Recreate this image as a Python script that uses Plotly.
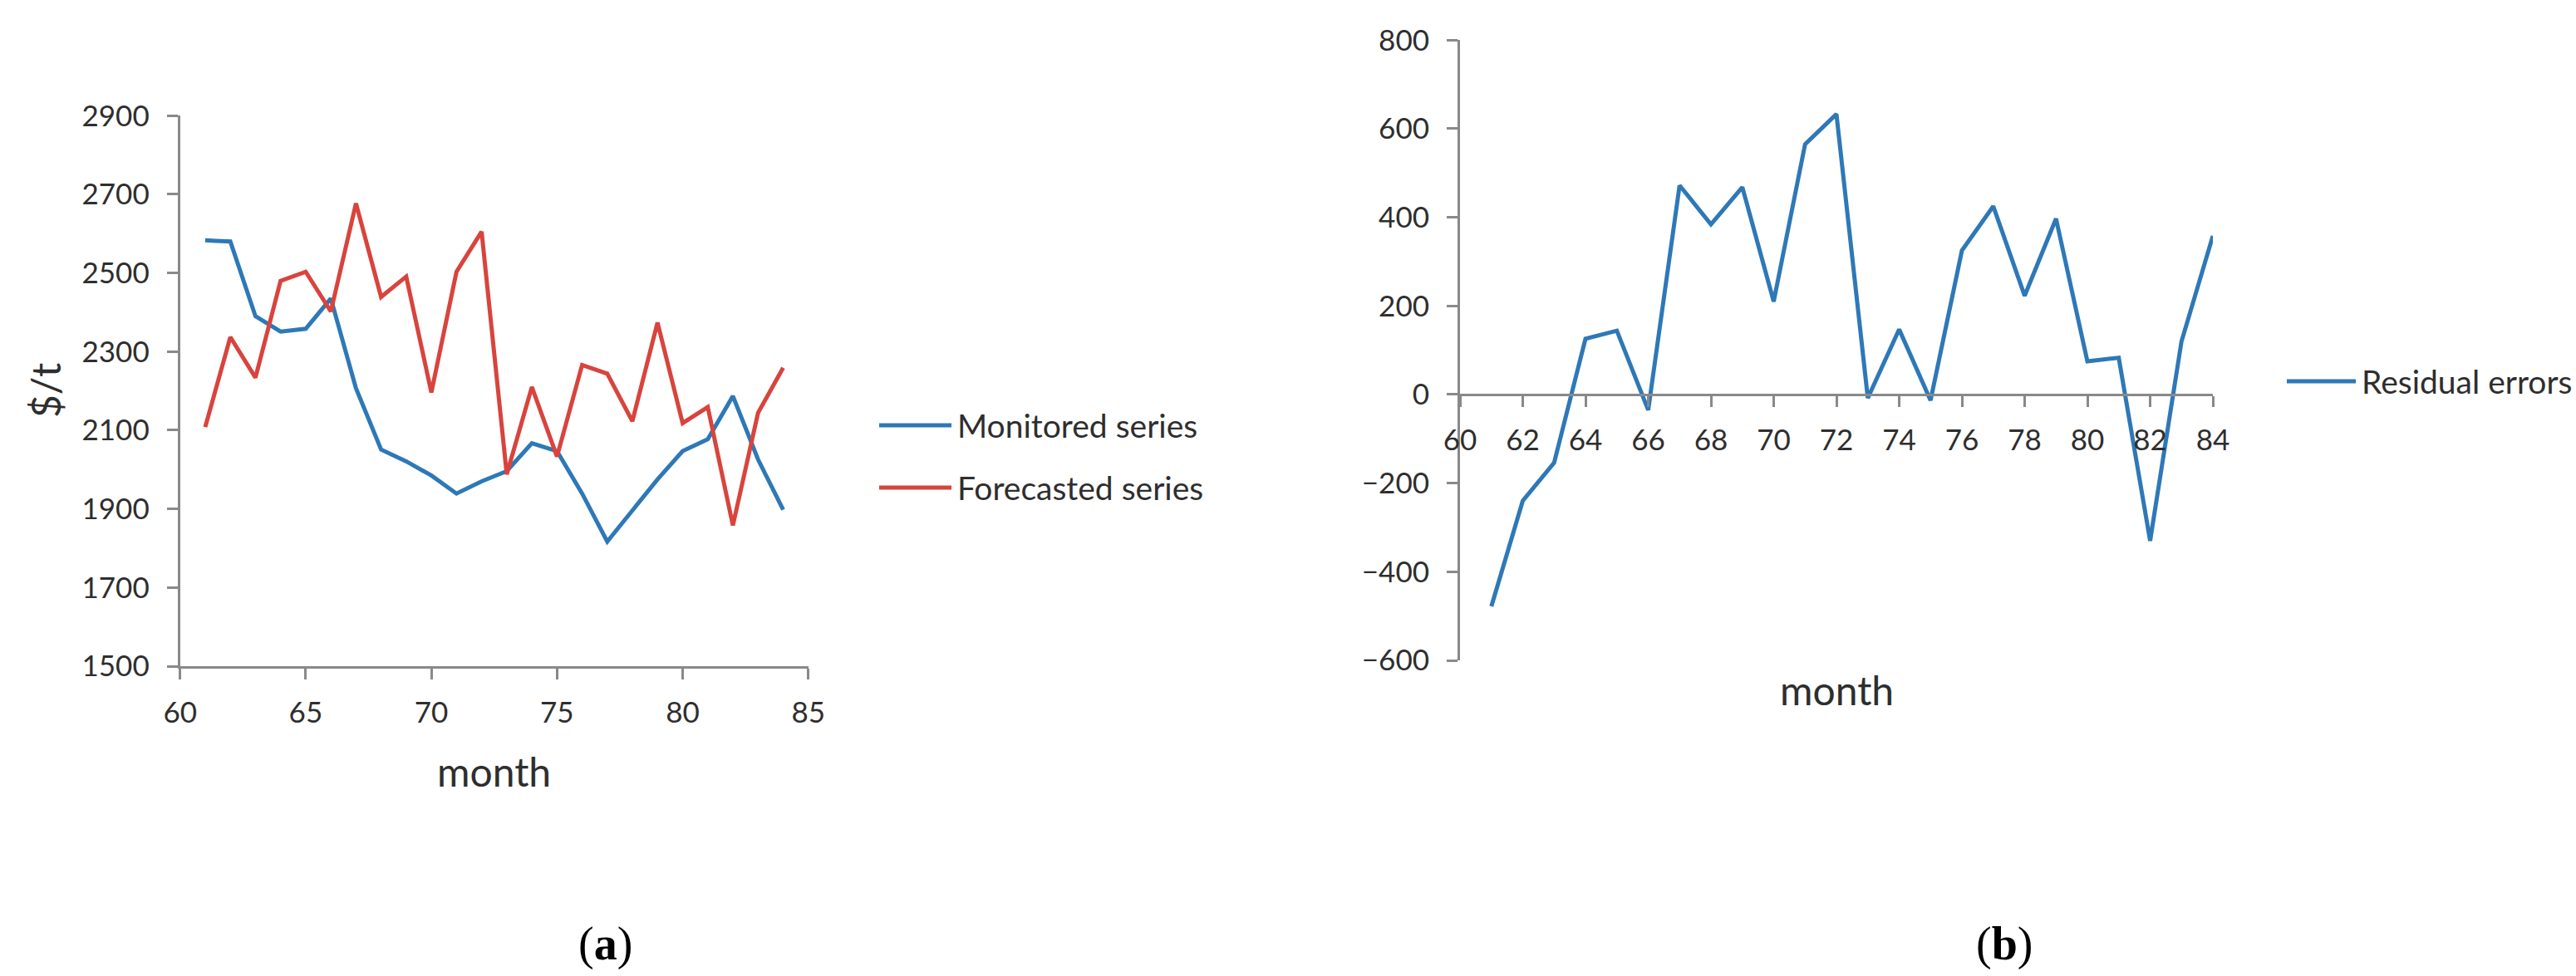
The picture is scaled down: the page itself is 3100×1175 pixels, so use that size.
import plotly.graph_objects as go

# ---- data -------------------------------------------------------------
months = list(range(61, 85))
monitored = [2583, 2580, 2390, 2351, 2358, 2435, 2207, 2051, 2021, 1985,
             1939, 1970, 1996, 2067, 2047, 1939, 1817, 1898, 1975, 2047,
             2077, 2187, 2026, 1898]
forecasted = [2108, 2337, 2234, 2480, 2503, 2402, 2677, 2439, 2491, 2196,
              2503, 2605, 1988, 2210, 2033, 2266, 2244, 2123, 2374, 2118,
              2159, 1858, 2144, 2259]
residuals = [-478, -240, -154, 126, 144, -35, 472, 384, 468, 210,
             565, 633, -8, 147, -13, 325, 425, 223, 397, 75,
             83, -330, 120, 358]

series_names = ["Monitored series", "Forecasted series"]
residual_name = "Residual errors"
panel_labels = ["(<b>a</b>)", "(<b>b</b>)"]
x_title = "month"
y_title = "$/t"

# ---- styling ----------------------------------------------------------
W, H = 3100, 1175
BLUE = "#2e78b7"
RED = "#d8443d"
AXIS = "#898989"
TEXT = "#2e2e2e"
FONT = "Lato"
TICK_SIZE = 35
TITLE_SIZE = 48
LEGEND_SIZE = 39
LINE_W = 5


def px_x(p):
    return p / W


def px_y(p):
    return 1 - p / H


fig = go.Figure()

fig.add_trace(go.Scatter(x=months, y=monitored, mode="lines", name=series_names[0],
                         line=dict(color=BLUE, width=LINE_W), xaxis="x", yaxis="y"))
fig.add_trace(go.Scatter(x=months, y=forecasted, mode="lines", name=series_names[1],
                         line=dict(color=RED, width=LINE_W), xaxis="x", yaxis="y"))
fig.add_trace(go.Scatter(x=months, y=residuals, mode="lines", name=residual_name,
                         line=dict(color=BLUE, width=LINE_W), xaxis="x2", yaxis="y2"))

axis_common = dict(
    showline=True, linecolor=AXIS, linewidth=3,
    ticks="outside", ticklen=13, tickwidth=3, tickcolor=AXIS,
    showgrid=False, zeroline=False, automargin=False,
    tickfont=dict(family=FONT, size=TICK_SIZE, color=TEXT),
)
x_common = dict(axis_common, ticklabelstandoff=10)
y_common = dict(axis_common, ticklabelstandoff=14)

# right-panel x axis sits on the zero line of its y axis
y2_lo, y2_hi = -600, 800
y2_dom = [px_y(795), px_y(48.3)]
zero_pos = y2_dom[0] + (0 - y2_lo) / (y2_hi - y2_lo) * (y2_dom[1] - y2_dom[0])

fig.update_layout(
    width=W, height=H,
    margin=dict(l=0, r=0, t=0, b=0, autoexpand=False),
    paper_bgcolor="white", plot_bgcolor="white",
    showlegend=False,
    font=dict(family=FONT, color=TEXT),
    xaxis=dict(x_common, domain=[px_x(216.7), px_x(972.7)], anchor="y",
               range=[60, 85], tick0=60, dtick=5),
    yaxis=dict(y_common, domain=[px_y(802), px_y(139.3)], anchor="x",
               range=[1500, 2900], tick0=1500, dtick=200),
    xaxis2=dict(x_common, domain=[px_x(1757), px_x(2663)], anchor="free",
                position=zero_pos, range=[60, 84], tick0=60, dtick=2),
    yaxis2=dict(y_common, domain=y2_dom, anchor="x2",
                range=[y2_lo, y2_hi], tick0=-600, dtick=200),
)

# axis titles
title_font = dict(family=FONT, size=TITLE_SIZE, color=TEXT)
for tx, ty, angle in [(594.7, 928, 0), (54, 470, -90), (2210, 830, 0)]:
    fig.add_annotation(text=y_title if angle else x_title, xref="paper", yref="paper",
                       x=px_x(tx), y=px_y(ty), xanchor="center", yanchor="middle",
                       textangle=angle, showarrow=False, font=title_font)

# legends drawn beside each panel
legend_items = [
    (series_names[0], BLUE, 1058, 1145, 512),
    (series_names[1], RED, 1058, 1145, 587),
    (residual_name, BLUE, 2752, 2835, 459),
]
for label, color, x0, x1, yy in legend_items:
    fig.add_shape(type="line", xref="paper", yref="paper",
                  x0=px_x(x0), x1=px_x(x1), y0=px_y(yy), y1=px_y(yy),
                  line=dict(color=color, width=LINE_W))
    fig.add_annotation(text=label, xref="paper", yref="paper",
                       x=px_x(x1 + 5), y=px_y(yy), xanchor="left", yanchor="middle",
                       showarrow=False,
                       font=dict(family=FONT, size=LEGEND_SIZE, color=TEXT))

# panel captions
for label, cx in zip(panel_labels, [728, 2412]):
    fig.add_annotation(text=label, xref="paper", yref="paper",
                       x=px_x(cx), y=px_y(1136), xanchor="center", yanchor="middle",
                       showarrow=False,
                       font=dict(family="Liberation Serif", size=56, color="black"))

fig.write_html("out.html")
